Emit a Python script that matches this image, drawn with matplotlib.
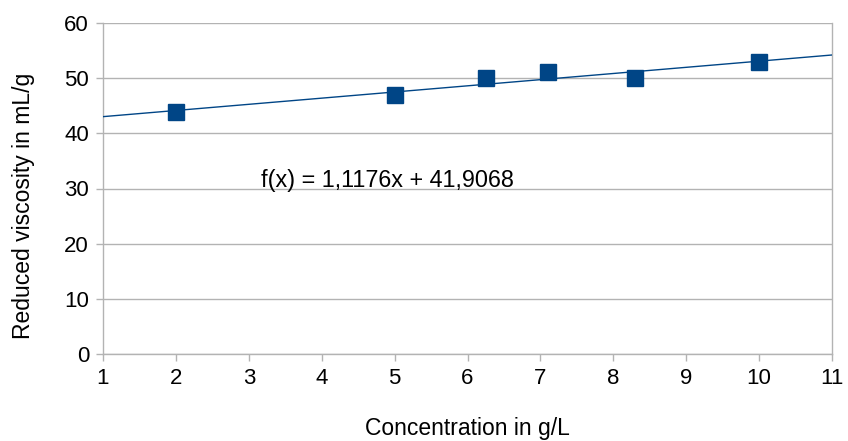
import numpy as np
import matplotlib.pyplot as plt

# data
conc = [2, 5, 6.25, 7.1, 8.3, 10]
visc = [43.8, 46.9, 50.0, 51.2, 50.0, 52.9]
slope, intercept = 1.1176, 41.9068
x_ticks = list(range(1, 12))
y_ticks = list(range(0, 61, 10))

blue = '#004586'
grid_grey = '#b3b3b3'

plt.rcParams['font.family'] = ['Liberation Sans', 'DejaVu Sans']

fig = plt.figure(figsize=(8.48, 4.41), dpi=100)
ax = fig.add_axes([103 / 848, 1 - 354 / 441, (832 - 103) / 848, (354 - 23) / 441])

xs = np.array([1, 11])
ax.plot(xs, slope * xs + intercept, '-', color=blue, linewidth=1.0, zorder=3)
ax.plot(conc, visc, 's', color=blue, markersize=11, zorder=4, clip_on=False)

ax.set_xlim(1, 11)
ax.set_ylim(0, 60)
ax.set_xticks(x_ticks)
ax.set_yticks(y_ticks)
ax.grid(True, axis='y', color=grid_grey, linewidth=1.0)
ax.set_axisbelow(True)

for side in ['left', 'right', 'bottom']:
    ax.spines[side].set_color(grid_grey)
    ax.spines[side].set_linewidth(1.0)
ax.spines['top'].set_visible(False)

ax.tick_params(axis='both', direction='out', color=grid_grey, length=5, width=1.0,
               labelsize=16, pad=5)
ax.set_xlabel('Concentration in g/L', fontsize=16.5, va='center')
ax.xaxis.set_label_coords(0.5, -(428 - 354) / 331)
ax.set_ylabel('Reduced viscosity in mL/g', fontsize=16.5, va='center')
ax.yaxis.set_label_coords((24 - 103) / 729, (354 - 206) / 331)

ax.text(3.17, 31.5, 'f(x) = 1,1176x + 41,9068', fontsize=16.8, va='center', ha='left')

fig.savefig('out.png', dpi=100)
